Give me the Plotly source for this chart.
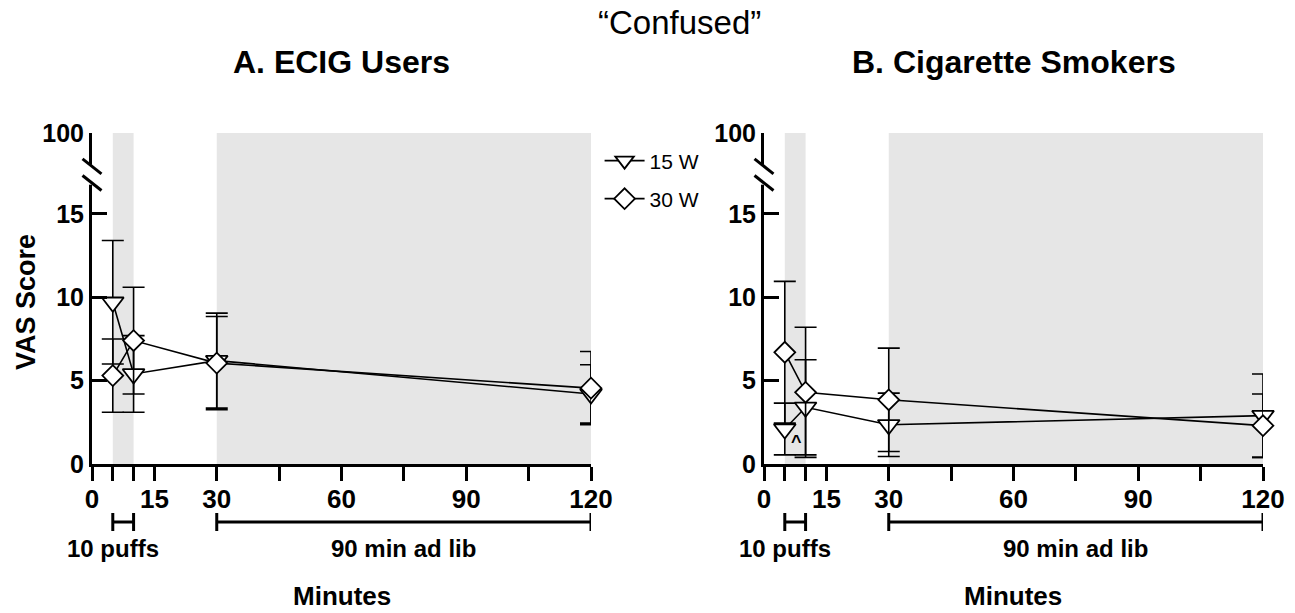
import plotly.graph_objects as go

# ---------------- data ----------------
minutes = [5, 10, 30, 120]

ecig_15w = [9.7, 5.4, 6.2, 4.2]
ecig_15w_err = [3.7, 2.3, 2.85, 1.75]
ecig_30w = [5.3, 7.4, 6.05, 4.55]
ecig_30w_err = [2.2, 3.2, 2.8, 2.2]

cig_15w = [2.1, 3.4, 2.35, 2.9]
cig_15w_err = [1.55, 2.85, 1.9, 2.5]
cig_30w = [6.7, 4.3, 3.85, 2.3]
cig_30w_err = [4.25, 3.9, 3.1, 1.9]

series_names = ["15 W", "30 W"]
x_tickvals = [0, 5, 10, 15, 30, 45, 60, 75, 90, 105, 120]
x_ticktext = ["0", "", "", "15", "30", "", "60", "", "90", "", "120"]
y_ticktext = ["0", "5", "10", "15", "100"]
panel_titles = ["A. ECIG Users", "B. Cigarette Smokers"]
puff_window = [5, 10]
adlib_window = [30, 120]

# ---------------- layout constants ----------------
W, H = 1295, 613
Y_TOP = 19.85  # broken axis: top of axis is labelled 100
FONT = "Liberation Sans, Arial, sans-serif"
GREY = "#e6e6e6"

fig = go.Figure()

panels = [
    ("x", "y", ecig_15w, ecig_15w_err, ecig_30w, ecig_30w_err, True),
    ("x2", "y2", cig_15w, cig_15w_err, cig_30w, cig_30w_err, False),
]

for xa, ya, v15, e15, v30, e30, leg in panels:
    for name, vals, errs, sym, size, lg in [
        (series_names[0], v15, e15, "triangle-down", 19, "legend"),
        (series_names[1], v30, e30, "diamond", 16, "legend2"),
    ]:
        fig.add_trace(go.Scatter(
            x=minutes, y=vals, name=name, mode="lines+markers",
            xaxis=xa, yaxis=ya, showlegend=leg, legend=lg, cliponaxis=False,
            line=dict(color="black", width=1.6),
            marker=dict(symbol=sym, size=size, color="white",
                        line=dict(color="black", width=1.8)),
            error_y=dict(type="data", array=errs, visible=True,
                         color="black", thickness=1.6, width=11),
        ))

# axes
dom_left = [92 / W, 591 / W]
dom_right = [764 / W, 1263 / W]
dom_y = [(H - 464) / H, (H - 133) / H]

xcommon = dict(range=[0, 120], tickvals=x_tickvals, ticktext=x_ticktext,
               ticks="outside", ticklen=14, tickwidth=3, tickcolor="black",
               showline=True, linewidth=3, linecolor="black",
               showgrid=False, zeroline=False, automargin=False,
               ticklabelstandoff=-4,
               tickfont=dict(family=FONT, size=26, color="black", weight="bold"))
ycommon = dict(range=[0, Y_TOP], tickvals=[0, 5, 10, 15, Y_TOP], ticktext=y_ticktext,
               ticks="inside", ticklen=15, tickwidth=3, tickcolor="black",
               showline=True, linewidth=3, linecolor="black",
               showgrid=False, zeroline=False, domain=dom_y, automargin=False,
               tickfont=dict(family=FONT, size=25, color="black", weight="bold"))

legcommon = dict(x=0.463, xanchor="left", yanchor="middle",
                 bgcolor="rgba(0,0,0,0)", font=dict(family=FONT, size=21, color="black"),
                 itemwidth=40)

fig.update_layout(
    width=W, height=H,
    margin=dict(l=0, r=0, t=0, b=0, autoexpand=False),
    paper_bgcolor="white", plot_bgcolor="rgba(0,0,0,0)",
    xaxis=dict(domain=dom_left, anchor="y", **xcommon),
    yaxis=dict(anchor="x", **ycommon),
    xaxis2=dict(domain=dom_right, anchor="y2", **xcommon),
    yaxis2=dict(anchor="x2", **ycommon),
    showlegend=True,
    legend=dict(y=(H - 161) / H, **legcommon),
    legend2=dict(y=(H - 199) / H, **legcommon),
)

shapes = []
annotations = []
for xa, ya in [("x", "y"), ("x2", "y2")]:
    # shaded periods
    for win in (puff_window, adlib_window):
        shapes.append(dict(type="rect", xref=xa, yref=ya, x0=win[0], x1=win[1],
                           y0=0, y1=Y_TOP, fillcolor=GREY, line=dict(width=0),
                           layer="below"))
    # axis break marks
    dref = xa + " domain"
    shapes.append(dict(type="line", xref=dref, yref=ya, x0=0, x1=0,
                       y0=16.75, y1=17.95, line=dict(color="white", width=6),
                       layer="above"))
    for c in (17.85, 16.85):
        shapes.append(dict(type="line", xref=dref, yref=ya, x0=-0.019, x1=0.019,
                           y0=c + 0.45, y1=c - 0.45, line=dict(color="black", width=3),
                           layer="above"))
    # brackets below the axis
    yb = (H - 522) / H
    cap = 9 / H
    for win in (puff_window, adlib_window):
        shapes.append(dict(type="line", xref=xa, yref="paper", x0=win[0], x1=win[1],
                           y0=yb, y1=yb, line=dict(color="black", width=3)))
        for xv in win:
            shapes.append(dict(type="line", xref=xa, yref="paper", x0=xv, x1=xv,
                               y0=yb - cap, y1=yb + cap, line=dict(color="black", width=3)))
    lab_y = (H - 548) / H
    annotations.append(dict(text="10 puffs", xref=xa, yref="paper", x=puff_window[0],
                            y=lab_y, showarrow=False, xanchor="center", yanchor="middle",
                            font=dict(family=FONT, size=24, color="black", weight="bold")))
    annotations.append(dict(text="90 min ad lib", xref=xa, yref="paper",
                            x=(adlib_window[0] + adlib_window[1]) / 2,
                            y=lab_y, showarrow=False, xanchor="center", yanchor="middle",
                            font=dict(family=FONT, size=24, color="black", weight="bold")))
    annotations.append(dict(text="Minutes", xref=xa + " domain", yref="paper", x=0.5,
                            y=(H - 596) / H, showarrow=False, xanchor="center",
                            yanchor="middle",
                            font=dict(family=FONT, size=26, color="black", weight="bold")))

for title, dom in zip(panel_titles, (dom_left, dom_right)):
    annotations.append(dict(text=title, xref="paper", yref="paper",
                            x=(dom[0] + dom[1]) / 2, y=(H - 62) / H, showarrow=False,
                            xanchor="center", yanchor="middle",
                            font=dict(family=FONT, size=32, color="black", weight="bold")))

annotations.append(dict(text="\u201cConfused\u201d", xref="paper", yref="paper",
                        x=680 / W, y=(H - 22) / H, showarrow=False, xanchor="center",
                        yanchor="middle", font=dict(family=FONT, size=33, color="black")))
annotations.append(dict(text="VAS Score", xref="paper", yref="paper",
                        x=26 / W, y=(H - 302) / H, showarrow=False, textangle=-90,
                        xanchor="center", yanchor="middle",
                        font=dict(family=FONT, size=27, color="black", weight="bold")))
annotations.append(dict(text="^", xref="x2", yref="y2", x=7.8, y=1.3, showarrow=False,
                        xanchor="center", yanchor="middle",
                        font=dict(family=FONT, size=18, color="black", weight="bold")))

fig.update_layout(shapes=shapes, annotations=annotations)
fig.write_html("out.html")
